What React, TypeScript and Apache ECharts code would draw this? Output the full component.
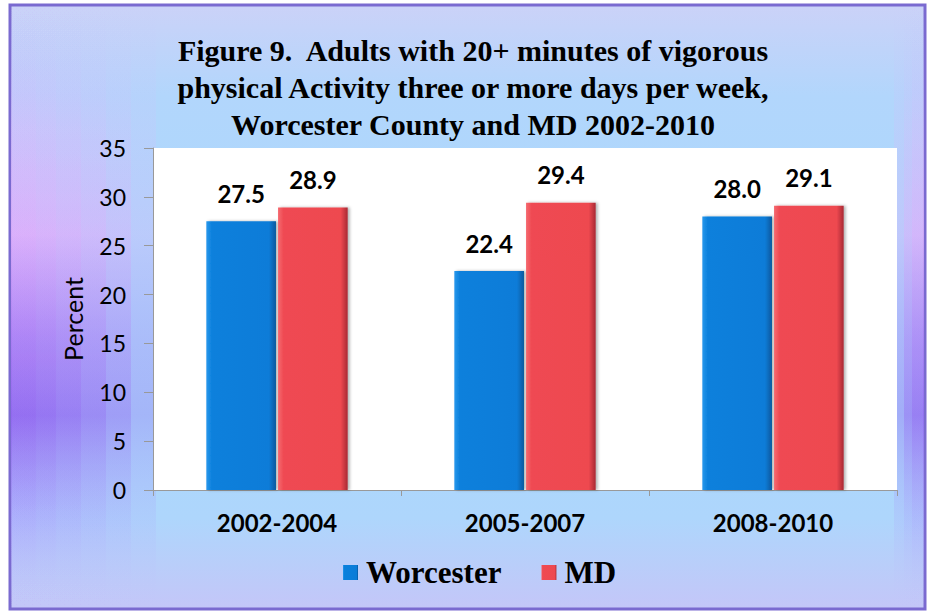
import React, { useEffect, useRef } from "react";
import * as echarts from "echarts";

const categories = ["2002-2004", "2005-2007", "2008-2010"];
const worcester = [27.5, 22.4, 28.0];
const md = [28.9, 29.4, 29.1];
const yTicks = { min: 0, max: 35, interval: 5 };
const titleLines = [
  "Figure 9.  Adults with 20+ minutes of vigorous",
  "physical Activity three or more days per week,",
  "Worcester County and MD 2002-2010",
];

const blueFill = new echarts.graphic.LinearGradient(0, 0, 1, 0, [
  { offset: 0, color: "#2a98ec" },
  { offset: 0.08, color: "#0a80dc" },
  { offset: 0.9, color: "#0a7cd8" },
  { offset: 1, color: "#06589e" },
]);
const redFill = new echarts.graphic.LinearGradient(0, 0, 1, 0, [
  { offset: 0, color: "#f56a70" },
  { offset: 0.08, color: "#ef4a52" },
  { offset: 0.9, color: "#ee4850" },
  { offset: 1, color: "#a82a32" },
]);

function purpleStrip(x: number, width: number, opacity: number) {
  return {
    type: "rect",
    silent: true,
    z: -9,
    shape: { x, y: 6, width, height: 602 },
    style: {
      opacity,
      fill: new echarts.graphic.LinearGradient(0, 0, 0, 1, [
        { offset: 0, color: "rgba(200,190,250,0)" },
        { offset: 0.2, color: "rgba(215,185,250,0.6)" },
        { offset: 0.38, color: "rgba(225,170,250,1)" },
        { offset: 0.55, color: "rgba(175,120,245,1)" },
        { offset: 0.68, color: "rgba(145,95,240,1)" },
        { offset: 0.85, color: "rgba(170,150,250,0.5)" },
        { offset: 1, color: "rgba(200,190,250,0)" },
      ]),
    },
  };
}

export default function App() {
  const ref = useRef<HTMLDivElement>(null);
  useEffect(() => {
    if (!ref.current) return;
    const chart = echarts.init(ref.current, null, { renderer: "svg" });
    const graphics: any[] = [
      {
        type: "rect",
        silent: true,
        z: -10,
        shape: { x: 10, y: 5, width: 915, height: 604 },
        style: {
          fill: new echarts.graphic.LinearGradient(0, 0, 0, 1, [
            { offset: 0, color: "#cbd2f8" },
            { offset: 0.15, color: "#b2d6fc" },
            { offset: 0.5, color: "#a8d8fc" },
            { offset: 0.85, color: "#aed6fc" },
            { offset: 1, color: "#c4c6f8" },
          ]),
          stroke: "#7a6ad0",
          lineWidth: 3,
        },
      },
    ];
    [145, 120, 95, 70, 45, 25].forEach((w) => graphics.push(purpleStrip(11, w, 0.28)));
    [30, 20, 12].forEach((w) => graphics.push(purpleStrip(924 - w, w, 0.35)));
    titleLines.forEach((t, i) => {
      graphics.push({
        type: "text",
        silent: true,
        x: 473,
        y: 50 + i * 37,
        style: {
          text: t,
          fill: "#000",
          font: "bold 30px 'Liberation Serif'",
          align: "center",
          verticalAlign: "middle",
        },
      });
    });

    const labelStyle = {
      show: true,
      position: "top",
      distance: 16,
      formatter: (p: any) => p.value.toFixed(1),
      color: "#000",
      fontFamily: "Lato",
      fontWeight: "bold",
      fontSize: 24,
    };

    chart.setOption({
      animation: false,
      graphic: graphics,
      grid: { left: 153, top: 148, right: 34, bottom: 123, backgroundColor: "#fff", show: true, borderWidth: 0 },
      legend: {
        bottom: 20,
        left: 338,
        itemWidth: 15,
        itemHeight: 15,
        itemGap: 40,
        icon: "rect",
        textStyle: { fontFamily: "Liberation Serif", fontWeight: "bold", fontSize: 31, color: "#000", padding: [0, 0, 0, 3] },
        data: ["Worcester", "MD"],
      },
      xAxis: {
        type: "category",
        data: categories,
        axisLine: { lineStyle: { color: "#999" } },
        axisTick: { show: true, length: 6, lineStyle: { color: "#999" } },
        axisLabel: { color: "#000", fontFamily: "Lato", fontWeight: "bold", fontSize: 24, margin: 20 },
      },
      yAxis: {
        type: "value",
        min: yTicks.min,
        max: yTicks.max,
        interval: yTicks.interval,
        name: "Percent",
        nameLocation: "middle",
        nameGap: 68,
        nameTextStyle: { color: "#000", fontFamily: "Lato", fontSize: 25 },
        axisLine: { show: true, lineStyle: { color: "#999" } },
        axisTick: { show: true, length: 9, lineStyle: { color: "#999" } },
        splitLine: { show: false },
        axisLabel: { color: "#000", fontFamily: "Lato", fontSize: 23, margin: 27 },
      },
      series: [
        {
          name: "Worcester",
          type: "bar",
          data: worcester,
          barGap: "3%",
          barCategoryGap: "43%",
          itemStyle: { color: blueFill, shadowColor: "rgba(0,0,0,0.3)", shadowBlur: 3, shadowOffsetX: 2 },
          label: labelStyle,
        },
        {
          name: "MD",
          type: "bar",
          data: md,
          itemStyle: { color: redFill, shadowColor: "rgba(0,0,0,0.3)", shadowBlur: 3, shadowOffsetX: 2 },
          label: labelStyle,
        },
      ],
    });
    return () => chart.dispose();
  }, []);
  return <div ref={ref} style={{ width: 931, height: 613, position: "absolute", left: 0, top: 0 }} />;
}
